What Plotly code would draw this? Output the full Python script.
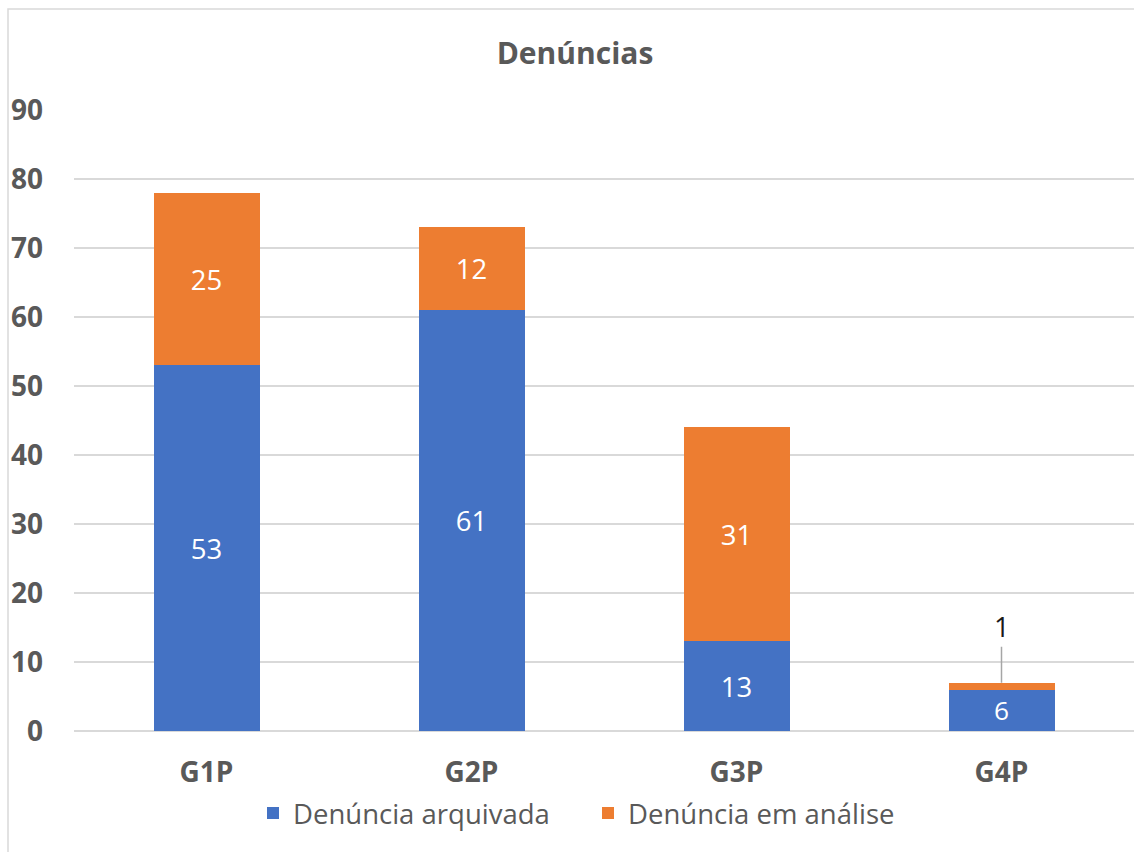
import plotly.graph_objects as go

categories = ["G1P", "G2P", "G3P", "G4P"]
arquivada = [53, 61, 13, 6]
analise = [25, 12, 31, 1]
y_ticks = [0, 10, 20, 30, 40, 50, 60, 70, 80, 90]

BLUE = "#4472C4"
ORANGE = "#ED7D31"
GRAY = "#595959"
FONT = "Open Sans"

def inside_text(vals):
    return [str(v) if v >= 3 else "" for v in vals]

fig = go.Figure()
fig.add_trace(go.Bar(
    x=categories, y=arquivada, name="Denúncia arquivada",
    marker=dict(color=BLUE, line=dict(width=0)),
    text=inside_text(arquivada), textposition="inside",
    insidetextanchor="middle", textangle=0,
    textfont=dict(family=FONT, size=27.5, color="white"),
))
fig.add_trace(go.Bar(
    x=categories, y=analise, name="Denúncia em análise",
    marker=dict(color=ORANGE, line=dict(width=0)),
    text=inside_text(analise), textposition="inside",
    insidetextanchor="middle", textangle=0,
    textfont=dict(family=FONT, size=27.5, color="white"),
))

# outside label for the small segment, with a leader line
for c, a, b in zip(categories, arquivada, analise):
    if b < 3:
        fig.add_annotation(
            x=c, y=a + b, text=str(b), showarrow=True,
            ax=0, ay=-56, arrowhead=0, arrowwidth=1.5, arrowcolor="#A6A6A6",
            standoff=0, font=dict(family=FONT, size=27.5, color="#1a1a1a"),
        )

W, H = 1134, 852
L, R, T, B = 74, 0, 110, 121
pw, ph = W - L - R, H - T - B

def px(xp):
    return (xp - L) / pw

def py(yp):
    return (H - B - yp) / ph

# chart border (left and top edges visible)
fig.add_shape(type="path", xref="paper", yref="paper",
              path=f"M {px(8)},{py(H + 2)} L {px(8)},{py(9)} L {px(W + 2)},{py(9)}",
              line=dict(color="#D9D9D9", width=1.5))

fig.update_layout(
    width=W, height=H,
    margin=dict(l=L, r=R, t=T, b=B, autoexpand=False),
    barmode="stack", bargap=0.6,
    plot_bgcolor="white", paper_bgcolor="white",
    hovermode=False,
    title=dict(text="<b>Denúncias</b>", xref="container", x=575 / W, xanchor="center",
               yref="container", y=1 - 53 / H, yanchor="middle",
               font=dict(family=FONT, size=30, color=GRAY)),
    font=dict(family=FONT, color=GRAY),
    legend=dict(orientation="h", x=px(253), xanchor="left",
                y=py(813), yanchor="middle",
                font=dict(family=FONT, size=27.5, color=GRAY),
                itemwidth=30, entrywidth=290, tracegroupgap=0, traceorder="normal",
                bgcolor="rgba(0,0,0,0)"),
    showlegend=True,
)
fig.update_yaxes(range=[0, 90], tickvals=y_ticks, ticktext=[f"<b>{v}</b>" for v in y_ticks],
                 showgrid=True, gridcolor="#D9D9D9", gridwidth=1.5,
                 zeroline=True, zerolinecolor="#D9D9D9", zerolinewidth=1.5,
                 showline=False, ticks="", ticklabelstandoff=30, automargin=False,
                 tickfont=dict(family=FONT, size=28, color=GRAY))
fig.update_xaxes(tickvals=categories, ticktext=[f"<b>{c}</b>" for c in categories],
                 showline=False, ticks="", ticklabelstandoff=22, automargin=False,
                 tickfont=dict(family=FONT, size=28, color=GRAY))

fig.write_html("out.html", config={"displayModeBar": False},
               post_script="document.body.style.margin='0px';document.body.style.overflow='hidden';")
